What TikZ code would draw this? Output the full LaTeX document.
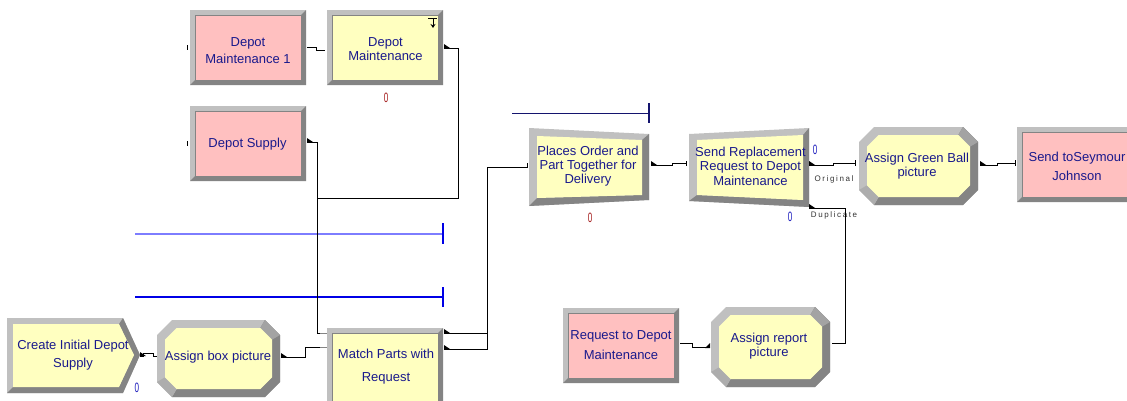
\documentclass[tikz,border=0pt]{standalone}
\usepackage{fontspec}
\setmainfont{Liberation Sans}
\usetikzlibrary{arrows.meta}
\definecolor{pinkf}{RGB}{255,192,192}
\definecolor{yelf}{RGB}{255,255,192}
\definecolor{bevL}{RGB}{192,192,192}
\definecolor{bevD}{RGB}{132,132,132}
\definecolor{txt}{RGB}{25,25,140}
\definecolor{cntred}{RGB}{165,30,30}
\definecolor{cntblue}{RGB}{30,30,190}
\definecolor{qlight}{RGB}{125,125,255}
\definecolor{qblue}{RGB}{0,0,230}
\definecolor{qnavy}{RGB}{20,20,110}

% bevelled rectangle: [bevel]{x0}{y0}{x1}{y1}{fill}
\newcommand{\modrect}[6][5]{%
  \pgfmathsetmacro\mAx{#2+#1}\pgfmathsetmacro\mAy{#3+#1}%
  \pgfmathsetmacro\mBx{#4-#1}\pgfmathsetmacro\mBy{#5-#1}%
  \fill[bevL] (#2,#3) rectangle (#4,#5);
  \fill[bevD] (#4,#3) -- (#4,#5) -- (#2,#5) -- (\mAx,\mBy) -- (\mBx,\mBy) -- (\mBx,\mAy) -- cycle;
  \fill[#6] (\mAx,\mAy) rectangle (\mBx,\mBy);
  \draw[bevD, line width=0.5] (\mAx,\mAy) rectangle (\mBx,\mBy);
}
% bevelled octagon: {x0}{y0}{x1}{y1}
\newcommand{\modoct}[4]{%
  \pgfmathsetmacro\oc{15}\pgfmathsetmacro\ob{8}%
  \pgfmathsetmacro\ic{\oc-0.414*\ob}%
  \pgfmathsetmacro\iXa{#1+\ob}\pgfmathsetmacro\iYa{#2+\ob}%
  \pgfmathsetmacro\iXb{#3-\ob}\pgfmathsetmacro\iYb{#4-\ob}%
  \fill[bevL] (#1+\oc,#2) -- (#3-\oc,#2) -- (#3,#2+\oc) -- (#3,#4-\oc) -- (#3-\oc,#4) -- (#1+\oc,#4) -- (#1,#4-\oc) -- (#1,#2+\oc) -- cycle;
  \fill[bevD] (#3-\oc,#2) -- (#3,#2+\oc) -- (#3,#4-\oc) -- (#3-\oc,#4) -- (#1+\oc,#4)
     -- (\iXa+\ic,\iYb) -- (\iXb-\ic,\iYb) -- (\iXb,\iYb-\ic) -- (\iXb,\iYa+\ic) -- (\iXb-\ic,\iYa) -- cycle;
  \fill[bevL!85!black] (#3-\oc,#2) -- (#3,#2+\oc) -- (\iXb,\iYa+\ic) -- (\iXb-\ic,\iYa) -- cycle;
  \fill[bevL!90!black] (#1,#4-\oc) -- (#1+\oc,#4) -- (\iXa+\ic,\iYb) -- (\iXa,\iYb-\ic) -- cycle;
  \fill[yelf] (\iXa+\ic,\iYa) -- (\iXb-\ic,\iYa) -- (\iXb,\iYa+\ic) -- (\iXb,\iYb-\ic) -- (\iXb-\ic,\iYb) -- (\iXa+\ic,\iYb) -- (\iXa,\iYb-\ic) -- (\iXa,\iYa+\ic) -- cycle;
}
\newcommand{\exitmark}[1]{\fill[black] (#1) -- ++(6,0) -- ++(-6,-4) -- cycle;}

\tikzset{
  lbl/.style={font=\fontsize{13}{#1}\selectfont, text=txt, align=center, inner sep=0pt},
  lbl/.default=14,
  cnt/.style={font=\fontsize{13.5}{13.5}\selectfont, text=#1, inner sep=0pt, xscale=0.6, transform shape},
  conn/.style={draw=black, line width=0.9pt},
  tick/.style={draw=black, line width=0.9pt},
  small/.style={font=\fontsize{8}{9}\selectfont\addfontfeature{LetterSpace=20}, text=black!80, inner sep=0pt},
}

\begin{document}
\begin{tikzpicture}[x=1pt, y=-1pt]
\path[use as bounding box, clip] (0,0) rectangle (1127,400);
\fill[white] (0,0) rectangle (1127,400);

% queue lines
\draw[qlight, line width=2pt] (135,234) -- (443,234);
\draw[qblue, line width=1.2pt] (443,223) -- (443,244);
\draw[qblue, line width=1.1pt] (135,297) -- (443,297);
\draw[qblue, line width=1.2pt] (443,287) -- (443,307);
\draw[qnavy, line width=1pt] (512,113) -- (649,113);
\draw[qnavy, line width=1.2pt] (649,103) -- (649,123);

% modules
\modrect{190}{10}{306}{85}{pinkf}
\modrect{327}{10}{443}{85}{yelf}
\modrect{190}{106}{306}{181}{pinkf}
\modrect{327}{328}{443}{406}{yelf}
\modrect{563}{308}{679}{383}{pinkf}
\modrect{1017}{127}{1140}{202}{pinkf}

% create (pentagon)
\fill[bevL] (7,318) -- (123,318) -- (140,355) -- (123,393) -- (7,393) -- cycle;
\fill[bevD] (123,318) -- (140,355) -- (123,393) -- (7,393) -- (13,387) -- (119,387) -- (134,355) -- (119,324) -- cycle;
\fill[yelf] (13,324) -- (119,324) -- (134,355) -- (119,387) -- (13,387) -- cycle;

% octagons
\modoct{157}{320}{280}{397}
\modoct{859}{127}{978}{205}
\modoct{711}{307}{830}{387}

% batch (places order)
\fill[bevL] (529,128) -- (649,134) -- (649,200) -- (529,206) -- cycle;
\fill[bevD] (649,134) -- (649,200) -- (529,206) -- (537,198) -- (642,195) -- (642,140) -- cycle;
\fill[yelf] (537,136) -- (642,140) -- (642,195) -- (537,198) -- cycle;
% separate (send replacement)
\fill[bevL] (689,134) -- (809,128) -- (809,207) -- (689,201) -- cycle;
\fill[bevD] (809,128) -- (809,207) -- (689,201) -- (697,195) -- (803,200) -- (803,135) -- cycle;
\fill[yelf] (697,140) -- (803,135) -- (803,200) -- (697,195) -- cycle;

% labels
\node[lbl=17] (dm1) at (248,50.5) {Depot\\Maintenance 1};
\node[lbl=14] (dm) at (385.5,49.5) {Depot\\Maintenance};
\node[lbl] (ds) at (247.5,144) {Depot Supply};
\node[lbl=18] (cr) at (73,355) {Create Initial Depot\\Supply};
\node[lbl] (abp) at (218,357) {Assign box picture};
\node[lbl=23] (mp) at (386,366.5) {Match Parts with\\Request};
\node[lbl=14] (po) at (588,166) {Places Order and\\Part Together for\\Delivery};
\node[lbl=14.5] (sr) at (750.5,166) {Send Replacement\\Request to Depot\\Maintenance};
\node[lbl=14] (ag) at (917,166) {Assign Green Ball\\picture};
\node[lbl=19] (ss) at (1077,166.5) {Send toSeymour\\Johnson};
\node[lbl=20] (rq) at (621,345) {Request to Depot\\Maintenance};
\node[lbl=14] (ar) at (769,346) {Assign report\\picture};

% counters
\node[cnt=cntred] (c1) at (386,98) {0};
\node[cnt=cntred] (c2) at (590,218) {0};
\node[cnt=cntblue] (c3) at (815,150) {0};
\node[cnt=cntblue] (c4) at (790,217) {0};
\node[cnt=cntblue] (c5) at (137,388) {0};

% small labels
\node[small] (orig) at (834,179) {Original};
\node[small] (dup) at (834,215) {Duplicate};

% connection points
\coordinate (dm1o) at (307,47);
\coordinate (dmi) at (325,50);
\coordinate (dmo) at (444,48);
\coordinate (dso) at (307,142);
\coordinate (mpi1) at (325,333);
\coordinate (mpi2) at (325,347);
\coordinate (abo) at (281,357);
\coordinate (cro) at (140,356);
\coordinate (abi) at (157,356);
\coordinate (mpo1) at (444,333);
\coordinate (mpo2) at (444,349);
\coordinate (poi) at (527,167);
\coordinate (poo) at (651,165);
\coordinate (sri) at (686,163);
\coordinate (sro1) at (809,165);
\coordinate (sro2) at (809,208);
\coordinate (agi) at (855,163);
\coordinate (ago) at (980,165);
\coordinate (ssi) at (1015,163);
\coordinate (rqo) at (680,343);
\coordinate (ari) at (709,347);
\coordinate (aro) at (832,343);

% connectors
\draw[conn] (dm1o) -- (316,47) -- (316,50) -- (dmi);
\draw[conn] (dmo) -- (458,48) -- (458,198) -- (317,198) -- (317,333) -- (mpi1);
\draw[conn] (dso) -- (317,142) -- (317,198);
\draw[conn] (abo) -- (305,357) -- (305,347) -- (mpi2);
\draw[conn] (cro) -- (143,356) -- (143,353) -- (153,353) -- (153,356) -- (abi);
\draw[conn] (mpo1) -- (487,333) -- (487,167) -- (poi);
\draw[conn] (mpo2) -- (487,349) -- (487,333);
\draw[conn] (poo) -- (672,165) -- (672,163) -- (sri);
\draw[conn] (sro1) -- (833,165) -- (833,163) -- (agi);
\draw[conn] (sro2) -- (845,208) -- (845,343) -- (aro);
\draw[conn] (ago) -- (997,165) -- (997,163) -- (ssi);
\draw[conn] (rqo) -- (692,343) -- (692,347) -- (ari);

% entry ticks
\draw[tick] (187,45) -- (187,50);
\draw[tick] (187,141) -- (187,146);
\draw[tick] (527,163) -- (527,168);
\draw[tick] (686,161) -- (686,166);
\draw[tick] (855,160) -- (855,166);
\draw[tick] (1015,160) -- (1015,166);
\draw[bevD, line width=1pt] (320,333) -- (327,333);
\draw[bevD, line width=1pt] (320,347) -- (327,347);

% exit marks
\exitmark{dmo}
\exitmark{abo}
\exitmark{cro}
\exitmark{poo}
\exitmark{sro1}
\exitmark{sro2}
\exitmark{ago}
\exitmark{mpo1}
\exitmark{mpo2}
\exitmark{dso}
\fill[black] (705,348) -- (710,348) -- (710,343) -- cycle;

% process symbol
\draw[black, line width=1pt] (428,18) -- (437,18);
\draw[black, line width=1pt, -{Stealth[length=4pt,width=5pt]}] (433,18) -- (433,28);
\end{tikzpicture}
\end{document}
